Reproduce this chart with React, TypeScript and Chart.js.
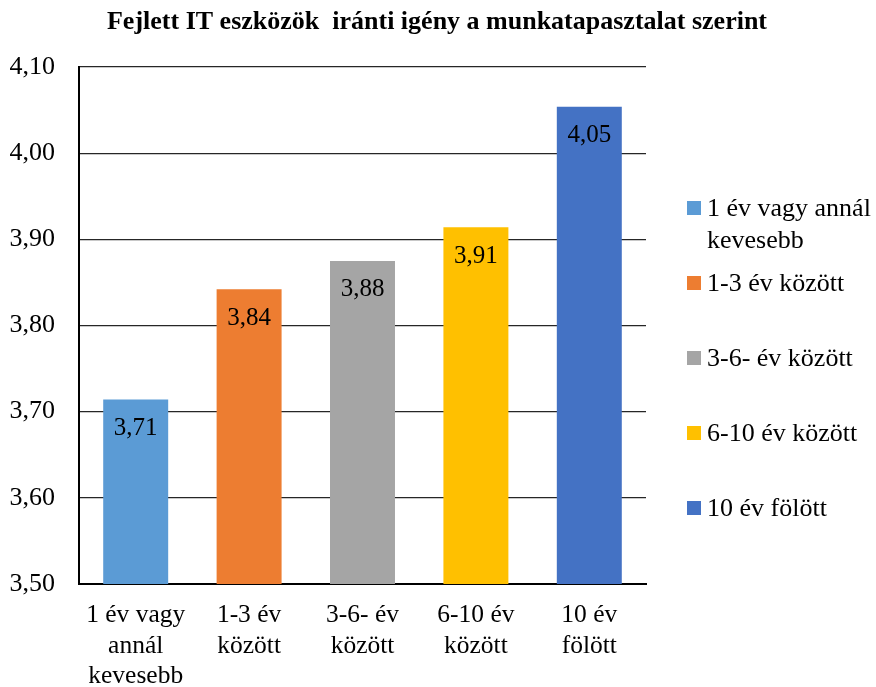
import { useEffect, useRef } from 'react';
import { Chart, registerables } from 'chart.js';

Chart.register(...registerables);

const TITLE = 'Fejlett IT eszközök  iránti igény a munkatapasztalat szerint';
const categories: string[][] = [
  ['1 év vagy', 'annál', 'kevesebb'],
  ['1-3 év', 'között'],
  ['3-6- év', 'között'],
  ['6-10 év', 'között'],
  ['10 év', 'fölött'],
];
const legendLabels: string[][] = [
  ['1 év vagy annál', 'kevesebb'],
  ['1-3 év között'],
  ['3-6- év között'],
  ['6-10 év között'],
  ['10 év fölött'],
];
const values = [3.714, 3.842, 3.875, 3.914, 4.054];
const colors = ['#5B9BD5', '#ED7D31', '#A5A5A5', '#FFC000', '#4472C4'];
const Y_MIN = 3.5;
const Y_MAX = 4.1;
const Y_STEP = 0.1;

const FONT = "'Liberation Serif', 'Times New Roman', serif";
const W = 876;
const H = 687;

const fmt = (v: number) => v.toFixed(2).replace('.', ',');

const decorPlugin = {
  id: 'decor',
  afterDatasetsDraw(chart: any) {
    const ctx = chart.ctx;
    const meta = chart.getDatasetMeta(0);
    ctx.save();
    ctx.font = `25px ${FONT}`;
    ctx.fillStyle = '#000';
    ctx.textAlign = 'center';
    ctx.textBaseline = 'middle';
    meta.data.forEach((bar: any, i: number) => {
      ctx.fillText(fmt(values[i]), bar.x, bar.y + 29);
    });
    ctx.restore();
  },
  afterDraw(chart: any) {
    const ctx = chart.ctx;
    const area = chart.chartArea;
    ctx.save();
    // title
    ctx.font = `bold 26px ${FONT}`;
    ctx.fillStyle = '#000';
    ctx.textAlign = 'center';
    ctx.textBaseline = 'alphabetic';
    ctx.fillText(TITLE, 437, 29);
    // legend
    const boxX = area.right + 41;
    const box = 14;
    ctx.font = `26px ${FONT}`;
    ctx.textAlign = 'left';
    ctx.textBaseline = 'middle';
    legendLabels.forEach((lines, i) => {
      const cy = 208 + 75 * i;
      ctx.fillStyle = colors[i];
      ctx.fillRect(boxX, cy - box / 2, box, box);
      ctx.fillStyle = '#000';
      lines.forEach((ln, j) => {
        ctx.fillText(ln, boxX + 20, cy + 1 + j * 32);
      });
    });
    ctx.restore();
  },
};

export default function App() {
  const ref = useRef<HTMLCanvasElement | null>(null);
  useEffect(() => {
    if (!ref.current) return;
    const chart = new Chart(ref.current, {
      type: 'bar',
      data: {
        labels: categories,
        datasets: [
          {
            data: values,
            backgroundColor: colors,
            borderWidth: 0,
            barPercentage: 0.573,
            categoryPercentage: 1,
          },
        ],
      },
      options: {
        responsive: false,
        animation: false,
        devicePixelRatio: 1,
        layout: { padding: { top: 67, right: 230, bottom: 0, left: 0 } },
        plugins: {
          legend: { display: false },
          title: { display: false },
          tooltip: { enabled: false },
        },
        scales: {
          x: {
            grid: { display: false, drawTicks: false },
            border: { display: true, color: '#000', width: 2 },
            ticks: {
              color: '#000',
              font: { family: FONT, size: 25.5, lineHeight: 1.2 },
              padding: 16,
              maxRotation: 0,
              autoSkip: false,
            },
            afterFit: (s: any) => {
              s.height = H - 584;
            },
          },
          y: {
            min: Y_MIN,
            max: Y_MAX,
            grid: { color: 'rgba(0,0,0,0.85)', lineWidth: 1.3, drawTicks: false },
            border: { display: true, color: '#000', width: 2 },
            ticks: {
              stepSize: Y_STEP,
              color: '#000',
              font: { family: FONT, size: 26 },
              padding: 24,
              callback: (v: any) => fmt(Number(v)),
            },
            afterFit: (s: any) => {
              s.width = 79;
            },
          },
        },
      },
      plugins: [decorPlugin],
    });
    return () => chart.destroy();
  }, []);
  return (
    <div style={{ position: 'absolute', left: 0, top: 0, width: W, height: H, background: '#fff' }}>
      <canvas ref={ref} width={W} height={H} style={{ display: 'block' }} />
    </div>
  );
}
